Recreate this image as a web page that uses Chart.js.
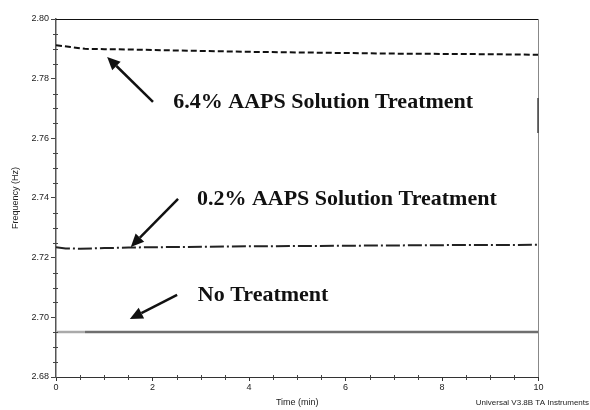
<!DOCTYPE html>
<html>
<head>
<meta charset="utf-8">
<script src="https://cdn.jsdelivr.net/npm/chart.js@4/dist/chart.umd.min.js"></script>
<style>
  html, body { margin: 0; padding: 0; background: #fff; }
  canvas { display: block; }
</style>
</head>
<body>
<canvas id="freq-chart" width="590" height="410"></canvas>
<script>
// readings (time in min, frequency in Hz)
const aaps64Time = [0, 0.3, 0.6, 1, 1.5, 2, 3, 4, 5, 6, 7, 8, 9, 10];
const aaps64Freq = [2.7912, 2.7906, 2.7900, 2.7899, 2.7898, 2.7896, 2.7893, 2.7890, 2.7888, 2.7886, 2.7884, 2.7883, 2.7882, 2.7880];

const aaps02Time = [0, 0.2, 0.5, 1, 1.5, 2, 4, 6, 8, 10];
const aaps02Freq = [2.7235, 2.7231, 2.7230, 2.7232, 2.7234, 2.7235, 2.7238, 2.7240, 2.7242, 2.7243];

const noTreatTime = [0, 0.6, 10];
const noTreatFreq = [2.6951, 2.6951, 2.6951];

const xTicks = [0, 2, 4, 6, 8, 10];
const yTicks = [2.68, 2.70, 2.72, 2.74, 2.76, 2.78, 2.80];

// arrows and labels, given in data units
const notes = [
  { text: '6.4% AAPS Solution Treatment', tx: 2.43, ty: 2.7722, from: [2.01, 2.7722], to: [1.06, 2.7873] },
  { text: '0.2% AAPS Solution Treatment', tx: 2.92, ty: 2.7395, from: [2.53, 2.7397], to: [1.55, 2.7236] },
  { text: 'No Treatment', tx: 2.94, ty: 2.7075, from: [2.51, 2.7075], to: [1.53, 2.6994] }
];

const pts = (xs, ys) => xs.map((x, i) => ({ x: x, y: ys[i] }));
const sans = 'Arial, "Liberation Sans", sans-serif';

const framePlugin = {
  id: 'frame',
  afterDraw(chart) {
    const { ctx, chartArea: a, scales: { x, y } } = chart;
    ctx.save();
    // top and right edges of the plot box
    ctx.strokeStyle = '#111';
    ctx.lineWidth = 1.2;
    ctx.beginPath();
    ctx.moveTo(a.left, a.top + 0.5);
    ctx.lineTo(a.right, a.top + 0.5);
    ctx.stroke();
    ctx.strokeStyle = '#888';
    ctx.lineWidth = 1;
    ctx.beginPath();
    ctx.moveTo(a.right, a.top);
    ctx.lineTo(a.right, a.bottom);
    ctx.stroke();
    ctx.strokeStyle = '#444';
    ctx.lineWidth = 1.5;
    ctx.beginPath();
    ctx.moveTo(a.right - 0.5, y.getPixelForValue(2.7735));
    ctx.lineTo(a.right - 0.5, y.getPixelForValue(2.7618));
    ctx.stroke();

    // minor ticks
    ctx.strokeStyle = '#444';
    ctx.lineWidth = 1;
    for (let v = 0.5; v < 10; v += 0.5) {
      if (Math.abs(v % 2) < 1e-6) continue;
      const px = Math.round(x.getPixelForValue(v)) + 0.5;
      ctx.beginPath();
      ctx.moveTo(px, a.bottom - 2);
      ctx.lineTo(px, a.bottom + 3);
      ctx.stroke();
    }
    for (let k = 1; k < 24; k++) {
      if (k % 4 === 0) continue;
      const py = Math.round(y.getPixelForValue(2.68 + k * 0.005)) + 0.5;
      ctx.beginPath();
      ctx.moveTo(a.left - 3, py);
      ctx.lineTo(a.left + 2, py);
      ctx.stroke();
    }

    // annotations
    ctx.fillStyle = '#111';
    ctx.strokeStyle = '#111';
    notes.forEach(n => {
      const x0 = x.getPixelForValue(n.from[0]), y0 = y.getPixelForValue(n.from[1]);
      const x1 = x.getPixelForValue(n.to[0]), y1 = y.getPixelForValue(n.to[1]);
      const ang = Math.atan2(y1 - y0, x1 - x0);
      const head = 13, half = 6;
      const bx = x1 - head * Math.cos(ang), by = y1 - head * Math.sin(ang);
      ctx.lineWidth = 2.5;
      ctx.beginPath();
      ctx.moveTo(x0, y0);
      ctx.lineTo(bx, by);
      ctx.stroke();
      ctx.beginPath();
      ctx.moveTo(x1, y1);
      ctx.lineTo(bx + half * Math.sin(ang), by - half * Math.cos(ang));
      ctx.lineTo(bx - half * Math.sin(ang), by + half * Math.cos(ang));
      ctx.closePath();
      ctx.fill();

      ctx.font = 'bold 22px "Liberation Serif", "Times New Roman", serif';
      ctx.textAlign = 'left';
      ctx.textBaseline = 'middle';
      ctx.fillText(n.text, x.getPixelForValue(n.tx), y.getPixelForValue(n.ty));
    });

    ctx.font = '8px ' + sans;
    ctx.fillStyle = '#222';
    ctx.textAlign = 'right';
    ctx.textBaseline = 'middle';
    ctx.fillText('Universal V3.8B TA Instruments', 589, 403);
    ctx.restore();
  }
};

new Chart(document.getElementById('freq-chart').getContext('2d'), {
  type: 'line',
  data: {
    datasets: [
      {
        label: '6.4% AAPS Solution Treatment',
        data: pts(aaps64Time, aaps64Freq),
        borderColor: '#111',
        borderWidth: 2,
        borderDash: [6, 3],
        pointRadius: 0
      },
      {
        label: '0.2% AAPS Solution Treatment',
        data: pts(aaps02Time, aaps02Freq),
        borderColor: '#222',
        borderWidth: 2,
        borderDash: [14, 3, 2, 3],
        pointRadius: 0
      },
      {
        label: 'No Treatment',
        data: pts(noTreatTime, noTreatFreq),
        borderColor: '#777',
        borderWidth: 2.5,
        pointRadius: 0,
        segment: {
          borderColor: c => c.p0.parsed.x < 0.5 ? '#aaa' : '#6f6f6f'
        }
      }
    ]
  },
  options: {
    responsive: false,
    animation: false,
    layout: { padding: { top: 19, right: 51.5, left: 0, bottom: 0 } },
    plugins: {
      legend: { display: false },
      tooltip: { enabled: false }
    },
    scales: {
      x: {
        type: 'linear',
        min: 0,
        max: 10,
        afterBuildTicks: s => { s.ticks = xTicks.map(v => ({ value: v })); },
        afterFit: s => { s.height = 33; },
        ticks: { font: { size: 9, family: sans }, color: '#222', padding: 1, maxRotation: 0 },
        grid: { drawOnChartArea: false, tickLength: 4, color: '#333' },
        border: { color: '#333', width: 1 },
        title: { display: true, text: 'Time (min)', font: { size: 9, family: sans }, color: '#222', padding: { top: 0, bottom: 2 } }
      },
      y: {
        min: 2.68,
        max: 2.80,
        afterBuildTicks: s => { s.ticks = yTicks.map(v => ({ value: v })); },
        afterFit: s => { s.width = 56; },
        ticks: { font: { size: 9, family: sans }, color: '#222', padding: 2, callback: v => v.toFixed(2) },
        grid: { drawOnChartArea: false, tickLength: 5, color: '#444' },
        border: { color: '#555', width: 1.5 },
        title: { display: true, text: 'Frequency (Hz)', font: { size: 9, family: sans }, color: '#222', padding: { top: 10, bottom: 0 } }
      }
    }
  },
  plugins: [framePlugin]
});
</script>
</body>
</html>
